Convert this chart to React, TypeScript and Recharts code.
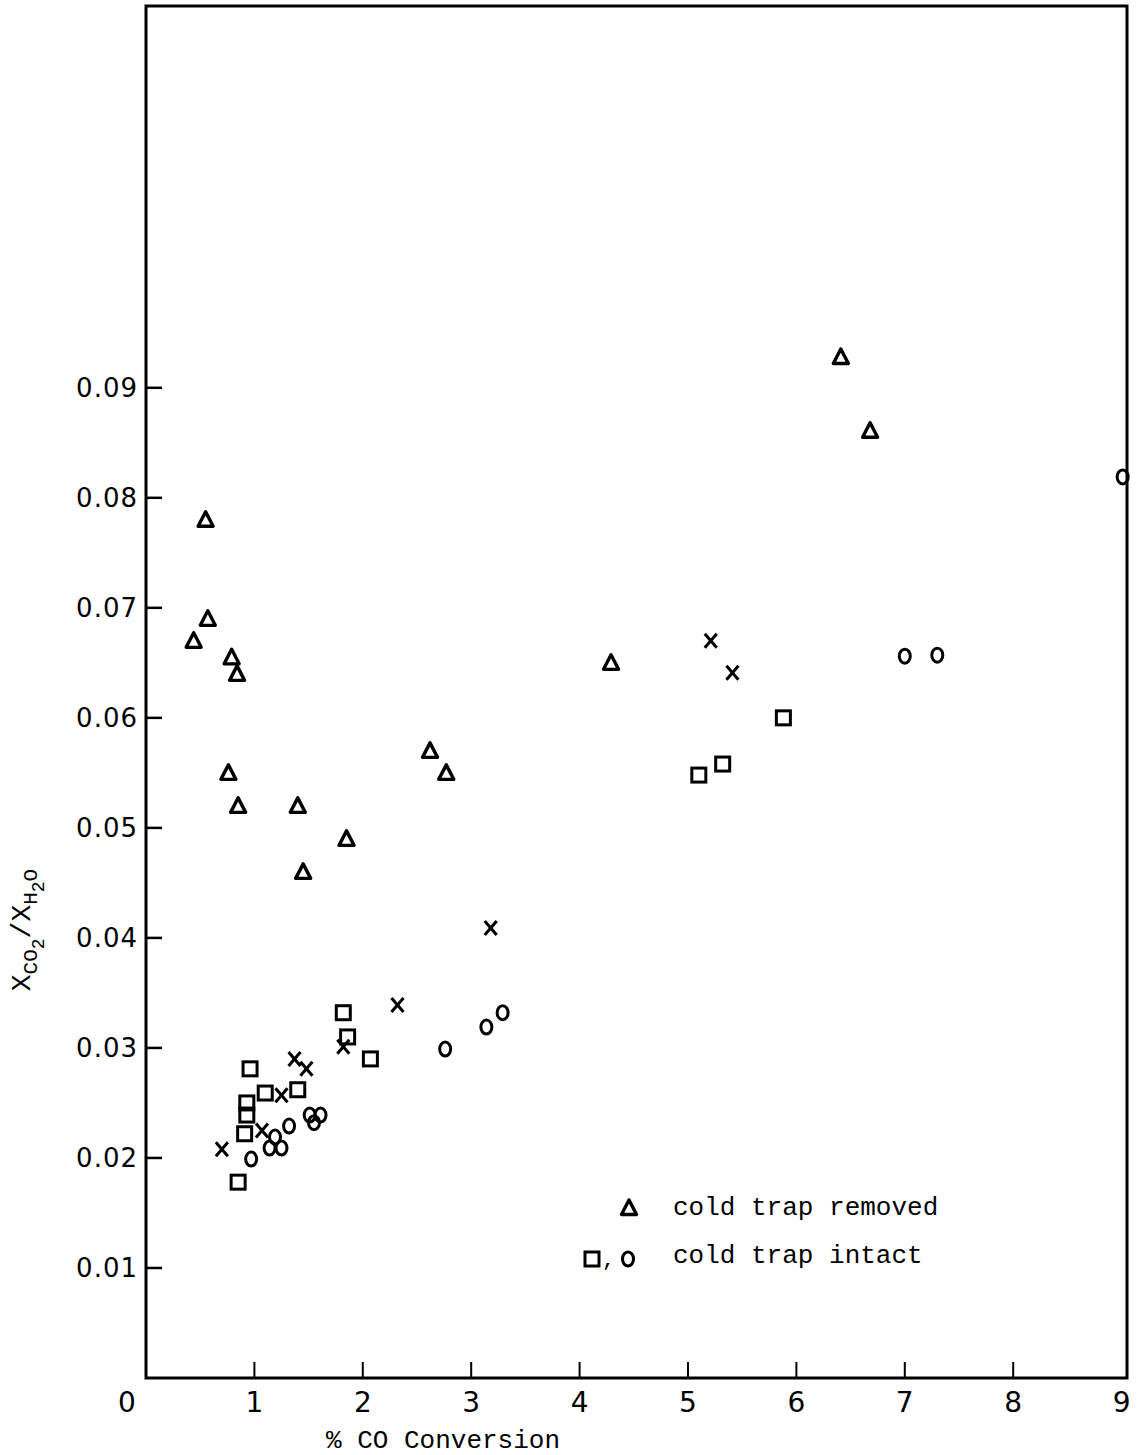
import React from "react";
import {
  ScatterChart,
  Scatter,
  XAxis,
  YAxis,
  ReferenceArea,
  Customized,
} from "recharts";

// data (x = % CO conversion, y = xCO2/xH2O)
const removedPts = [
  { x: 0.55, y: 0.078 },
  { x: 0.57, y: 0.069 },
  { x: 0.44, y: 0.067 },
  { x: 0.79, y: 0.0655 },
  { x: 0.84, y: 0.064 },
  { x: 0.76, y: 0.055 },
  { x: 0.85, y: 0.052 },
  { x: 1.4, y: 0.052 },
  { x: 1.45, y: 0.046 },
  { x: 1.85, y: 0.049 },
  { x: 2.62, y: 0.057 },
  { x: 2.77, y: 0.055 },
  { x: 4.29, y: 0.065 },
  { x: 6.41, y: 0.0928 },
  { x: 6.68, y: 0.0861 },
];

const crossPts = [
  { x: 0.7, y: 0.0208 },
  { x: 1.07, y: 0.0225 },
  { x: 1.25, y: 0.0257 },
  { x: 1.37, y: 0.029 },
  { x: 1.48, y: 0.0281 },
  { x: 1.82, y: 0.0301 },
  { x: 2.32, y: 0.0339 },
  { x: 3.18, y: 0.0409 },
  { x: 5.21, y: 0.067 },
  { x: 5.41, y: 0.0641 },
];

const squarePts = [
  { x: 0.85, y: 0.0178 },
  { x: 0.91, y: 0.0222 },
  { x: 0.93, y: 0.0239 },
  { x: 0.93, y: 0.025 },
  { x: 0.96, y: 0.0281 },
  { x: 1.1, y: 0.0259 },
  { x: 1.4, y: 0.0262 },
  { x: 1.82, y: 0.0332 },
  { x: 1.86, y: 0.031 },
  { x: 2.07, y: 0.029 },
  { x: 5.1, y: 0.0548 },
  { x: 5.32, y: 0.0558 },
  { x: 5.88, y: 0.06 },
];

const circlePts = [
  { x: 0.97, y: 0.0199 },
  { x: 1.14, y: 0.0209 },
  { x: 1.19, y: 0.0219 },
  { x: 1.25, y: 0.0209 },
  { x: 1.32, y: 0.0229 },
  { x: 1.51, y: 0.0239 },
  { x: 1.55, y: 0.0232 },
  { x: 1.61, y: 0.0239 },
  { x: 2.76, y: 0.0299 },
  { x: 3.14, y: 0.0319 },
  { x: 3.29, y: 0.0332 },
  { x: 7.0, y: 0.0656 },
  { x: 7.3, y: 0.0657 },
  { x: 9.01, y: 0.0819 },
];

const xTicks = [0, 1, 2, 3, 4, 5, 6, 7, 8, 9];
const yTicks = [0.01, 0.02, 0.03, 0.04, 0.05, 0.06, 0.07, 0.08, 0.09];
const yTickLabels = ["0.01", "0.02", "0.03", "0.04", "0.05", "0.06", "0.07", "0.08", "0.09"];

const X_MAX = 9.05;
const Y_MAX = 0.1247;
const INK = "#000";
const MONO = "'Liberation Mono', 'DejaVu Sans Mono', monospace";

const Triangle = ({ cx, cy }: any) => (
  <path
    d={`M${cx},${cy - 8} L${cx + 7.5},${cy + 6.5} L${cx - 7.5},${cy + 6.5} Z`}
    fill="none"
    stroke={INK}
    strokeWidth={3.4}
    strokeLinejoin="round"
  />
);

const Square = ({ cx, cy }: any) => (
  <rect x={cx - 7} y={cy - 7} width={14} height={14} fill="none" stroke={INK} strokeWidth={3} />
);

const Circle = ({ cx, cy }: any) => (
  <ellipse cx={cx} cy={cy} rx={5.5} ry={7} fill="none" stroke={INK} strokeWidth={3} />
);

const Cross = ({ cx, cy }: any) => (
  <g stroke={INK} strokeWidth={3}>
    <line x1={cx - 6} y1={cy - 7} x2={cx + 6} y2={cy + 7} />
    <line x1={cx + 6} y1={cy - 7} x2={cx - 6} y2={cy + 7} />
  </g>
);

const XTick = ({ x, y, payload }: any) => {
  const v = payload.value;
  return (
    <g>
      {v > 0 && v < 9 && <line x1={x} y1={y} x2={x} y2={y - 16} stroke={INK} strokeWidth={2} />}
      <text
        x={v === 0 ? x - 19 : x}
        y={y + 34}
        textAnchor="middle"
        fontSize={28}
        fontFamily="'DejaVu Sans', sans-serif"
        fill={INK}
      >
        {v}
      </text>
    </g>
  );
};

const YTick = ({ x, y, index }: any) => (
  <g>
    <line x1={x} y1={y} x2={x + 16} y2={y} stroke={INK} strokeWidth={2.5} />
    <text
      x={x - 8}
      y={y + 9}
      textAnchor="end"
      fontSize={26}
      letterSpacing={1}
      fontFamily="'DejaVu Sans', sans-serif"
      fill={INK}
    >
      {yTickLabels[index]}
    </text>
  </g>
);

const XLabel = ({ viewBox }: any) => (
  <text
    x={viewBox.x + 297}
    y={viewBox.y + 70}
    textAnchor="middle"
    fontSize={26}
    fontFamily={MONO}
    fill={INK}
  >
    % CO Conversion
  </text>
);

const YLabel = ({ viewBox }: any) => {
  const cx = viewBox.x + 30;
  const cy = viewBox.y + viewBox.height / 2 + 238;
  return (
    <text
      transform={`translate(${cx},${cy}) rotate(-90)`}
      textAnchor="middle"
      fontFamily={MONO}
      fill={INK}
      fontSize={28}
    >
      <tspan>X</tspan>
      <tspan fontSize={21} dy={7}>CO</tspan>
      <tspan fontSize={18} dy={7}>2</tspan>
      <tspan fontSize={28} dy={-14}>/X</tspan>
      <tspan fontSize={21} dy={7}>H</tspan>
      <tspan fontSize={18} dy={7}>2</tspan>
      <tspan fontSize={21} dy={-7}>O</tspan>
    </text>
  );
};

const LegendBlock = () => (
  <g fontFamily={MONO} fontSize={26} fill={INK}>
    <Triangle cx={629} cy={1208} />
    <text x={673} y={1215}>cold trap removed</text>
    <Square cx={592} cy={1259} />
    <text x={602} y={1266} fontSize={22}>,</text>
    <Circle cx={628} cy={1259} />
    <text x={673} y={1263}>cold trap intact</text>
  </g>
);

export default function App() {
  return (
    <div style={{ position: "absolute", left: 0, top: 0, background: "#fff" }}>
      <ScatterChart
        width={1140}
        height={1455}
        margin={{ top: 6, right: 13, bottom: 0, left: 0 }}
      >
        <XAxis
          type="number"
          dataKey="x"
          domain={[0, X_MAX]}
          ticks={xTicks}
          interval={0}
          height={77}
          axisLine={false}
          tickLine={false}
          tickSize={0}
          tickMargin={0}
          tick={<XTick />}
          label={<XLabel />}
        />
        <YAxis
          type="number"
          dataKey="y"
          domain={[0, Y_MAX]}
          ticks={yTicks}
          interval={0}
          width={146}
          axisLine={false}
          tickLine={false}
          tickSize={0}
          tickMargin={0}
          tick={<YTick />}
          label={<YLabel />}
        />
        <ReferenceArea
          x1={0}
          x2={X_MAX}
          y1={0}
          y2={Y_MAX}
          fill="none"
          stroke={INK}
          strokeWidth={3}
          ifOverflow="visible"
        />
        <Scatter data={removedPts} shape={(p: any) => <Triangle {...p} />} isAnimationActive={false} />
        <Scatter data={crossPts} shape={(p: any) => <Cross {...p} />} isAnimationActive={false} />
        <Scatter data={squarePts} shape={(p: any) => <Square {...p} />} isAnimationActive={false} />
        <Scatter data={circlePts} shape={(p: any) => <Circle {...p} />} isAnimationActive={false} />
        <Customized component={<LegendBlock />} />
      </ScatterChart>
    </div>
  );
}
